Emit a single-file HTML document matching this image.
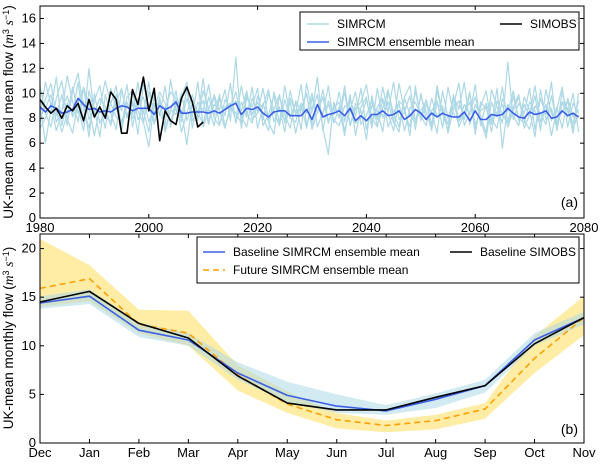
<!DOCTYPE html>
<html><head><meta charset="utf-8"><style>
body{margin:0;background:#fff;}
svg text{font-family:"Liberation Sans",sans-serif;fill:#000;}
</style></head><body>
<svg id="c" width="600" height="464" xmlns="http://www.w3.org/2000/svg"></svg>
<script>
// ---- Panel (a) data ----
const yearsStart = 1980;
const memberA = [7.6,9.5,10.8,8.2,9.9,7.4,10.2,11.6,8.8,7.2,9.4,10.6,8.1,7.7,9.9,8.6,10.7,7.3,9.6,8.4,10.9,7.5,9.2,8.8,10.1,9.6,6.9,8.4,9.9,8.1,11.2,7.6,9.1,8.7,10.3,7.8,12.9,7.2,9.6,8.9,10.4,7.4,8.3,9.8,7.6,10.6,8.1,9.2,7.1,10.8,8.5,11.3,7.0,9.4,8.3,10.1,7.7,9.9,6.6,8.9,9.7,7.2,10.4,8.0,9.3,7.6,10.8,8.5,7.3,10.2,8.1,9.5,7.4,10.6,8.3,7.1,9.8,8.7,10.9,7.5,9.1,8.2,6.8,10.3,8.9,7.6,12.5,7.9,9.2,8.4,10.4,7.1,9.6,8.3,10.9,7.0,9.3,8.1,10.0,6.9];
const memberB = [9.1,6.0,8.7,11.3,7.4,9.2,8.3,10.9,7.6,12.0,8.1,9.0,7.2,10.4,8.8,7.5,9.7,10.2,7.9,8.6,6.9,9.8,8.2,10.6,7.3,9.1,8.6,5.9,9.4,7.8,10.2,8.8,7.4,9.6,8.2,10.8,7.6,9.3,8.1,10.5,7.2,9.0,10.3,7.7,8.9,6.9,9.6,8.4,10.7,7.5,8.6,9.9,7.2,5.1,9.3,8.0,10.1,7.4,9.2,8.6,6.3,9.8,7.9,10.5,8.4,7.0,9.4,8.9,6.6,10.6,7.8,9.1,8.5,6.8,10.2,8.0,9.6,7.3,8.4,10.1,6.7,9.3,8.8,7.5,10.4,5.6,9.1,8.2,7.4,9.7,8.6,6.5,10.3,7.9,8.8,7.2,10.1,8.5,7.6,9.4];
const memberC = [10.6,8.4,7.3,9.6,11.0,8.0,6.8,9.3,10.4,7.9,8.8,6.5,9.9,8.4,7.1,10.3,8.2,9.4,6.7,10.8,8.9,7.6,9.7,6.9,8.6,10.2,7.7,9.6,8.1,10.9,7.3,8.7,9.8,7.5,8.9,9.2,7.8,10.6,8.4,7.6,9.8,8.1,7.0,10.1,8.6,7.9,9.3,6.8,8.8,10.0,7.4,9.1,8.3,10.6,7.6,8.9,6.6,9.5,8.2,10.4,7.1,9.0,8.6,6.9,10.1,8.4,7.3,9.7,10.6,7.8,8.6,9.4,7.0,10.2,8.3,7.6,9.0,10.8,7.4,8.5,9.7,7.9,6.4,9.3,8.1,10.5,7.6,8.9,9.9,7.2,8.3,10.6,7.7,9.1,6.6,8.7,10.5,7.3,9.2,8.4];
const memberD = [8.2,10.9,9.1,7.0,8.5,11.4,9.3,7.7,10.5,9.0,6.6,8.9,11.0,9.2,8.1,7.8,9.0,8.3,10.9,7.7,5.7,9.2,8.4,7.5,11.1,8.6,9.7,10.9,7.2,9.3,8.6,10.7,8.0,7.4,9.5,8.8,10.1,8.1,7.3,9.6,8.5,10.4,7.9,8.7,9.9,7.6,10.2,8.3,9.1,7.2,9.6,8.4,10.3,7.7,9.0,8.1,10.6,7.4,8.8,9.3,10.7,8.0,7.3,9.5,8.6,10.9,7.9,8.5,9.8,7.1,10.0,7.9,8.6,9.4,7.2,10.5,8.4,7.7,9.1,8.3,10.7,7.4,9.2,8.0,7.2,9.6,8.5,10.2,7.8,9.1,8.2,9.8,7.0,10.3,8.4,7.5,9.3,8.8,6.8,10.0];
const memberE = [9.4,8.8,9.9,7.7,8.6,9.8,8.1,9.0,7.0,10.2,8.5,9.6,8.9,7.4,9.3,10.4,8.0,9.1,8.6,7.6,10.1,8.4,9.5,7.1,8.7,8.3,10.0,7.8,9.2,8.5,7.5,9.7,8.2,9.9,7.3,8.8,9.4,8.6,10.2,7.9,8.4,9.2,7.7,6.7,9.8,8.3,7.2,9.4,8.6,10.0,7.1,8.5,9.7,7.6,8.8,9.3,7.0,8.7,10.1,7.5,8.2,9.4,7.4,8.8,10.3,7.8,6.9,9.6,8.3,7.6,9.8,8.5,7.1,9.2,8.7,7.5,9.9,7.8,8.4,9.3,7.2,8.9,10.2,7.6,8.5,9.1,7.3,8.6,9.7,7.9,7.1,9.0,8.4,7.5,9.8,7.7,8.5,9.4,7.2,8.3];
const memberF = [7.2,8.0,9.2,8.6,6.9,8.3,10.5,8.4,9.4,6.5,10.0,7.6,8.5,9.1,10.6,7.0,9.3,8.0,8.9,9.7,7.7,8.9,10.1,9.2,7.6,9.5,8.1,10.3,7.8,8.6,9.4,7.5,9.9,8.6,7.2,9.1,8.4,7.6,9.9,8.3,9.3,7.9,10.0,8.6,7.4,9.5,8.0,7.7,9.2,8.4,10.0,7.3,8.5,9.1,7.9,7.4,9.0,8.7,7.6,8.0,9.5,7.6,8.9,9.6,7.3,8.5,9.2,7.0,8.8,9.3,8.2,7.4,9.6,8.1,9.0,6.8,8.7,9.4,7.9,10.0,7.5,8.6,9.0,6.9,9.4,8.3,7.6,9.8,8.0,7.6,9.3,8.6,7.3,9.1,7.8,8.9,7.2,9.6,8.1,8.7];
const ensembleMean = [8.9,8.5,9.0,8.8,8.4,8.5,8.7,9.6,9.1,8.7,8.8,8.5,8.6,8.5,8.8,9.0,8.9,8.6,8.8,8.8,8.8,8.3,9.0,8.7,8.9,9.3,8.4,8.4,8.5,8.5,8.5,8.4,8.6,8.4,8.7,9.0,9.2,8.3,8.8,8.7,8.9,8.4,8.1,8.5,8.6,8.6,8.2,8.2,8.2,8.7,7.9,9.1,8.1,8.3,8.4,8.6,8.2,8.8,7.8,8.2,7.8,8.3,8.3,8.6,8.2,8.3,8.6,7.9,8.2,8.7,8.4,7.9,8.4,8.1,8.4,8.2,8.1,8.1,8.5,7.8,8.6,7.9,7.9,8.3,8.2,8.3,8.8,8.4,8.1,8.0,8.5,8.3,8.4,8.6,8.0,8.1,8.6,8.2,8.4,8.1];
const simObs = [9.5,8.9,8.4,8.8,8.0,9.0,8.6,9.2,7.8,9.5,8.1,8.9,8.0,10.1,9.5,6.8,6.8,10.3,9.1,11.3,8.6,10.4,6.2,8.6,7.8,7.5,9.6,10.5,9.3,7.3,7.7];
const xTicksA = [1980,2000,2020,2040,2060,2080];
const yTicksA = [0,2,4,6,8,10,12,14,16];

// ---- Panel (b) data ----
const months = ["Dec","Jan","Feb","Mar","Apr","May","Jun","Jul","Aug","Sep","Oct","Nov"];
const baseMean = [14.4,15.1,11.6,10.6,7.2,4.9,3.8,3.3,4.5,5.9,10.6,12.9];
const baseLow  = [13.8,14.3,10.9,10.0,6.5,4.2,3.1,2.9,3.6,5.2,10.0,12.2];
const baseHigh = [15.1,15.8,12.4,11.3,8.3,6.3,5.0,3.9,5.1,6.5,11.3,13.5];
const obsMonthly = [14.5,15.6,12.3,10.8,6.9,4.1,3.4,3.4,4.7,5.9,10.2,12.9];
const futMean = [15.9,16.9,12.2,11.3,7.0,4.0,2.4,1.8,2.3,3.5,8.7,12.9];
const futLow  = [14.0,14.6,11.3,10.0,5.4,3.1,1.5,1.1,1.4,2.5,7.2,11.1];
const futHigh = [21.0,18.3,13.7,13.6,8.0,5.3,3.1,2.3,2.9,4.1,11.0,15.1];
const yTicksB = [0,5,10,15,20];

const NS="http://www.w3.org/2000/svg";
const svg=document.getElementById('c');
function mk(tag,attrs,parent){const e=document.createElementNS(NS,tag);for(const k in attrs)e.setAttribute(k,attrs[k]);(parent||svg).appendChild(e);return e;}
function txt(x,y,s,anchor,size,parent){const t=mk('text',{x:x,y:y,'text-anchor':anchor||'middle','font-size':size||12},parent);t.textContent=s;return t;}

const A={l:40,r:584,t:6,b:218,x0:1980,x1:2080,y0:0,y1:17};
const ax=v=>A.l+(v-A.x0)/(A.x1-A.x0)*(A.r-A.l);
const ay=v=>A.b-(v-A.y0)/(A.y1-A.y0)*(A.b-A.t);
const gA=mk('g',{});


function poly(arr,xf,yf,x0,stroke,w,g,name,dash){
  const pts=arr.map((v,i)=>xf(x0+i).toFixed(1)+','+yf(v).toFixed(1)).join(' ');
  const p=mk('polyline',{points:pts,fill:'none',stroke:stroke,'stroke-width':w,'stroke-linejoin':'round'},g);
  if(dash)p.setAttribute('stroke-dasharray',dash);
  
  
  return p;
}
[memberA,memberB,memberC,memberD,memberE,memberF].forEach((m,i)=>poly(m,ax,ay,yearsStart,'#add8e6',1.2,gA,'simrcm-member-line'));
poly(ensembleMean,ax,ay,yearsStart,'#3b5ee8',1.6,gA,'simrcm-ensemble-mean-line');
poly(simObs,ax,ay,yearsStart,'#000',1.6,gA,'simobs-line');
const frA=mk('rect',{x:A.l,y:A.t,width:A.r-A.l,height:A.b-A.t,fill:'none',stroke:'#000','stroke-width':1},gA);


xTicksA.forEach(v=>{const x=ax(v);mk('line',{x1:x,x2:x,y1:A.b,y2:A.b-4,stroke:'#000'},gA);mk('line',{x1:x,x2:x,y1:A.t,y2:A.t+4,stroke:'#000'},gA);
  const t=txt(x,A.b+14,String(v),'middle',13,gA);});
yTicksA.forEach(v=>{const y=ay(v);mk('line',{x1:A.l,x2:A.l+4,y1:y,y2:y,stroke:'#000'},gA);mk('line',{x1:A.r,x2:A.r-4,y1:y,y2:y,stroke:'#000'},gA);
  const t=txt(A.l-4,y+4,String(v),'end',13,gA);});
</script>
<script>
const B={l:40,r:584,t:234,b:443,y0:0,y1:21.5};
const bx=i=>B.l+i/(months.length-1)*(B.r-B.l);
const by=v=>B.b-(v-B.y0)/(B.y1-B.y0)*(B.b-B.t);
const gB=mk('g',{});


function band(lo,hi,fill,op,name){
  const pts=hi.map((v,i)=>bx(i).toFixed(1)+','+by(v).toFixed(1)).concat(lo.map((v,i)=>[i,v]).reverse().map(([i,v])=>bx(i).toFixed(1)+','+by(v).toFixed(1))).join(' ');
  const p=mk('polygon',{points:pts,fill:fill,'fill-opacity':op,stroke:'none'},gB);
  
  
}
band(futLow,futHigh,'#ffd83a',0.45,'future-range-band');
band(baseLow,baseHigh,'#add8e6',0.55,'baseline-range-band');
poly(futMean,bx,by,0,'#ff9f00',1.6,gB,'future-ensemble-mean-line','6,4');
poly(baseMean,bx,by,0,'#3b5ee8',1.6,gB,'baseline-ensemble-mean-line');
poly(obsMonthly,bx,by,0,'#000',1.6,gB,'baseline-simobs-line');
const frB=mk('rect',{x:B.l,y:B.t,width:B.r-B.l,height:B.b-B.t,fill:'none',stroke:'#000','stroke-width':1},gB);


months.forEach((m,i)=>{const x=bx(i);mk('line',{x1:x,x2:x,y1:B.b,y2:B.b-4,stroke:'#000'},gB);mk('line',{x1:x,x2:x,y1:B.t,y2:B.t+4,stroke:'#000'},gB);
  const t=txt(x,B.b+14,m,'middle',13,gB);});
yTicksB.forEach(v=>{const y=by(v);mk('line',{x1:B.l,x2:B.l+4,y1:y,y2:y,stroke:'#000'},gB);mk('line',{x1:B.r,x2:B.r-4,y1:y,y2:y,stroke:'#000'},gB);
  const t=txt(B.l-4,y+4,String(v),'end',13,gB);});
</script>
<script>
function ylab(x,y,s,name){const t=mk('text',{x:0,y:0,'text-anchor':'middle','font-size':13.5,transform:'translate('+x+','+y+') rotate(-90)'});
  t.innerHTML=s;}
ylab(13,112,'UK-mean annual mean flow (<tspan font-style="italic" font-family="Liberation Serif">m</tspan><tspan font-size="9" dy="-4">3</tspan><tspan dy="4"> </tspan><tspan font-style="italic" font-family="Liberation Serif">s</tspan><tspan font-size="9" dy="-4">−1</tspan><tspan dy="4">)</tspan>','y-axis-title-a');
ylab(13,338,'UK-mean monthly flow (<tspan font-style="italic" font-family="Liberation Serif">m</tspan><tspan font-size="9" dy="-4">3</tspan><tspan dy="4"> </tspan><tspan font-style="italic" font-family="Liberation Serif">s</tspan><tspan font-size="9" dy="-4">−1</tspan><tspan dy="4">)</tspan>','y-axis-title-b');
let pl=txt(578,207,'(a)','end',14);
pl=txt(578,434,'(b)','end',14);

function legend(x,y,w,h,items,name){
  const g=mk('g',{});
  
  
  mk('rect',{x:x,y:y,width:w,height:h,fill:'#fff',stroke:'#000','stroke-width':1},g);
  items.forEach(it=>{
    const e=mk('g',{},g);
    
    
    const l=mk('line',{x1:it.x,x2:it.x+22,y1:it.y,y2:it.y,stroke:it.c,'stroke-width':it.w||1.6},e);
    if(it.d)l.setAttribute('stroke-dasharray',it.d);
    txt(it.x+30,it.y+4,it.t,'start',12,e);
  });
}
legend(300,12,279,38,[{x:307,y:24,c:'#add8e6',t:'SIMRCM'},{x:307,y:42,c:'#3b5ee8',t:'SIMRCM ensemble mean'},{x:500,y:24,c:'#000',t:'SIMOBS'}],'legend-a');
legend(197,237,382,46,[{x:203,y:252,c:'#3b5ee8',t:'Baseline SIMRCM ensemble mean'},{x:203,y:270,c:'#ff9f00',d:'6,4',t:'Future SIMRCM ensemble mean'},{x:450,y:252,c:'#000',t:'Baseline SIMOBS'}],'legend-b');
</script>
</body></html>
